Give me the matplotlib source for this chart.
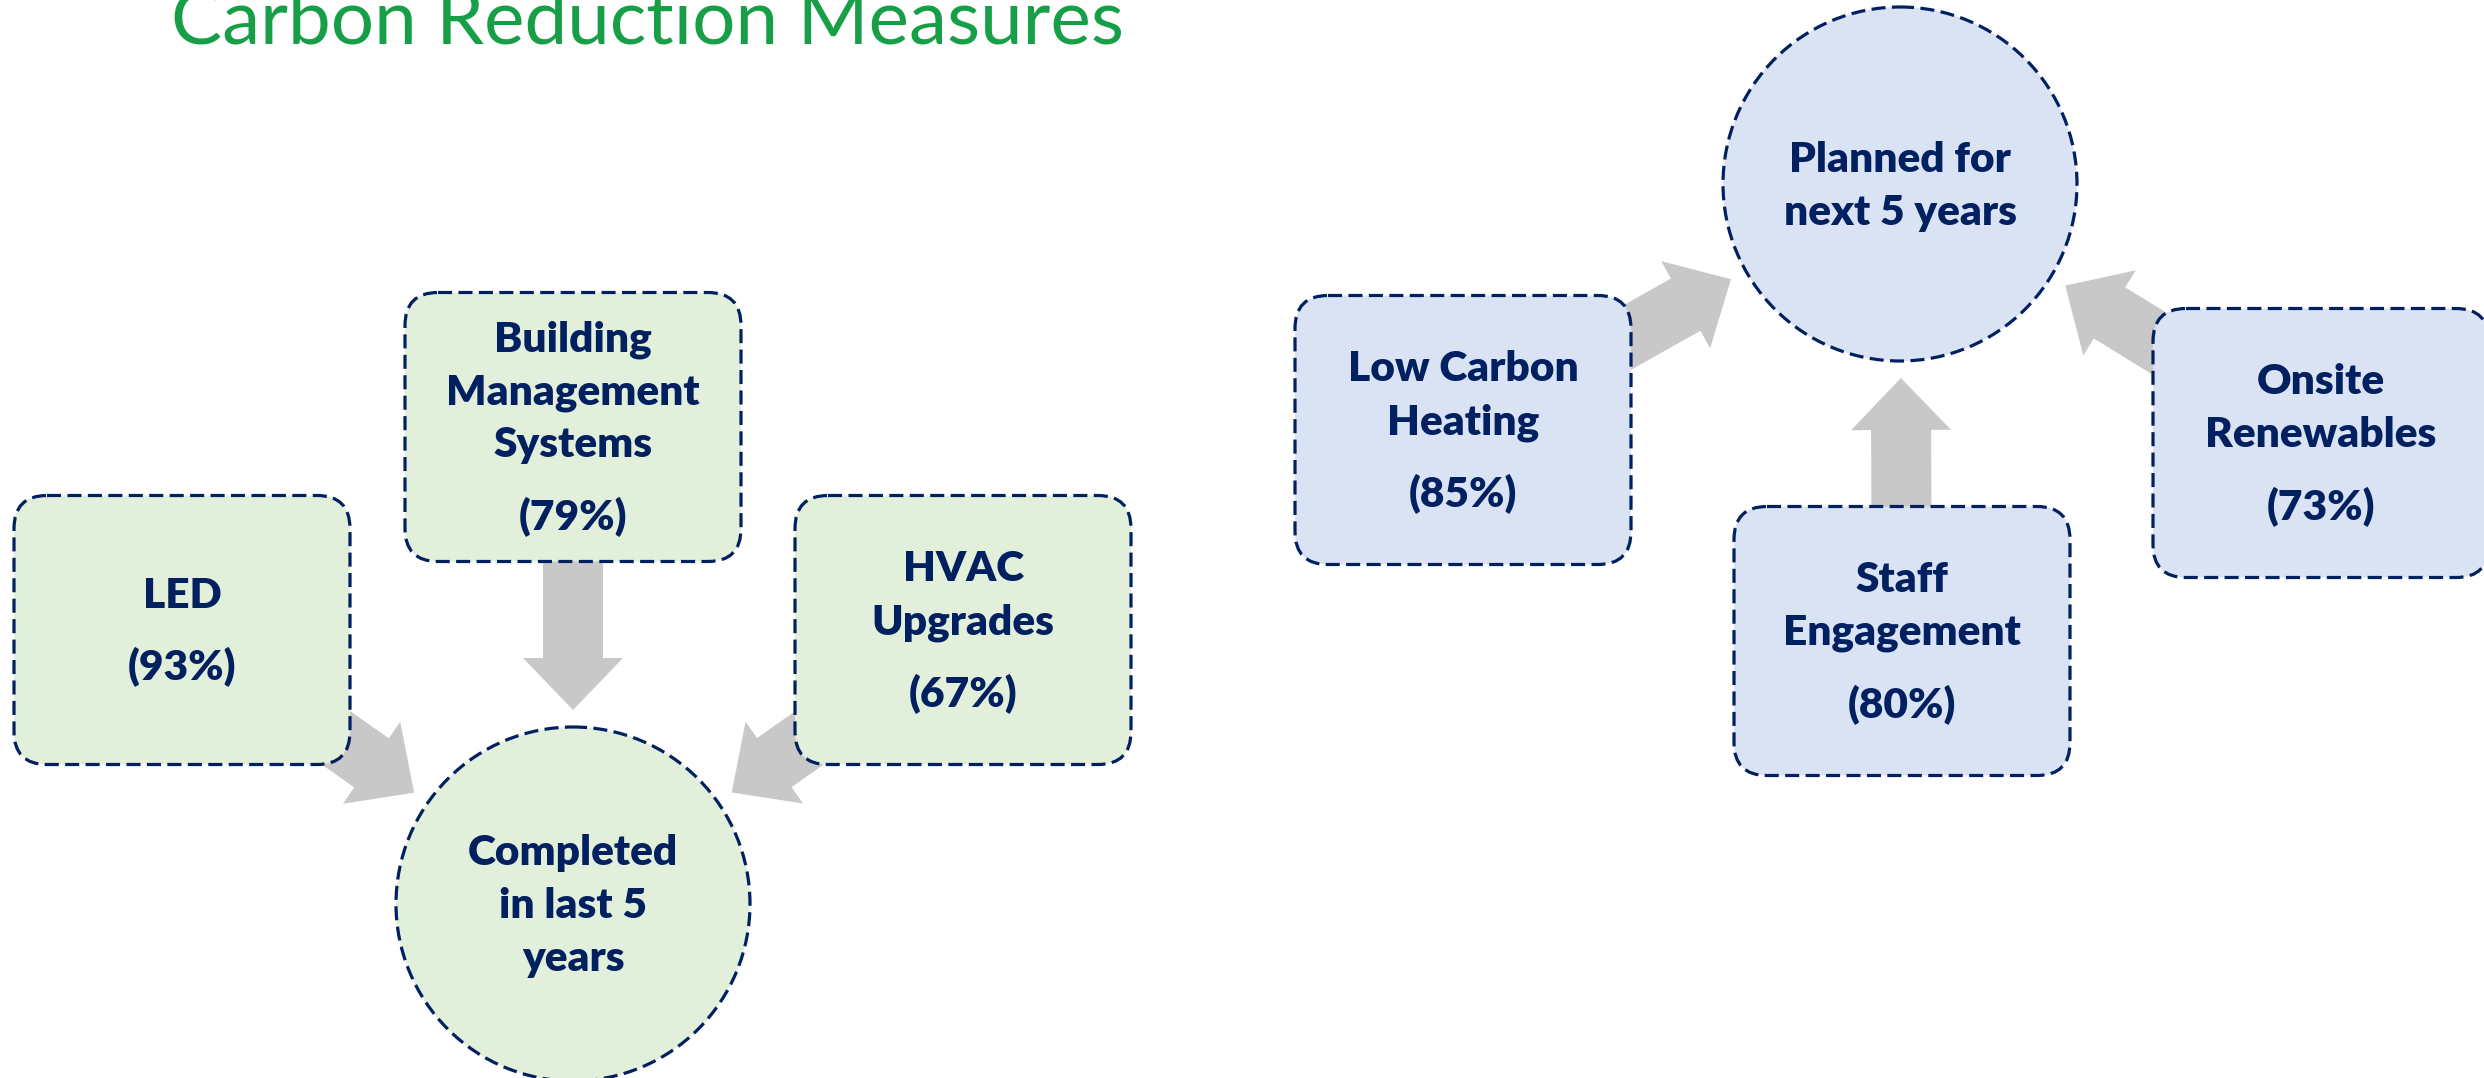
import numpy as np
import matplotlib.pyplot as plt
from matplotlib.patches import FancyBboxPatch, Circle, FancyArrow

W, H = 2484, 1078

title = "Carbon Reduction Measures"

# left group - completed in last 5 years
done_hub = ["Completed", "in last 5", "years"]
done_labels = [["LED"], ["Building", "Management", "Systems"], ["HVAC", "Upgrades"]]
done_pct = [93, 79, 67]

# right group - planned for next 5 years
plan_hub = ["Planned for", "next 5 years"]
plan_labels = [["Low Carbon", "Heating"], ["Staff", "Engagement"], ["Onsite", "Renewables"]]
plan_pct = [85, 80, 73]

# layout in pixels (y down)
done_hub_xy = (573, 904)
done_box_xy = [(182, 630), (573, 427), (963, 630)]
plan_hub_xy = (1900, 184)
plan_box_xy = [(1463, 430), (1902, 641), (2321, 443)]

box_w, box_h = 336, 269
hub_r = 177
navy = "#002060"
grey = "#C8C8C8"
green_fill = "#E2EFDA"
blue_fill = "#DAE3F3"
lw = 2.3
dash = (0, (4.4, 2.0))
line_gap = 53
pct_gap = 73
fs = 30.5
font = ["Lato", "DejaVu Sans"]

fig = plt.figure(figsize=(W / 100, H / 100), dpi=100)
ax = fig.add_axes([0, 0, 1, 1])
ax.set_xlim(0, W)
ax.set_ylim(H, 0)
ax.axis("off")


def label(x, y, s):
    ax.text(x, y + 14, s, ha="center", va="baseline", fontsize=fs,
            fontweight="heavy", color=navy, family=font, zorder=4)


def group(hub_xy, hub_rows, boxes, labels, pcts, fill):
    hx, hy = hub_xy
    for (bx, by), lab, p in zip(boxes, labels, pcts):
        v = np.array([bx - hx, by - hy], dtype=float)
        u = v / np.hypot(*v)
        tip = np.array([hx, hy]) + u * (hub_r + 17)
        ax.add_patch(FancyArrow(bx, by, tip[0] - bx, tip[1] - by, width=60,
                                head_width=100, head_length=52,
                                length_includes_head=True, color=grey, lw=0, zorder=1))
        ax.add_patch(FancyBboxPatch((bx - box_w / 2, by - box_h / 2), box_w, box_h,
                                    boxstyle="round,pad=0,rounding_size=33",
                                    fc=fill, ec=navy, lw=lw, ls=dash, zorder=2))
        span = (len(lab) - 1) * line_gap + pct_gap
        top = by - span / 2
        for i, r in enumerate(lab):
            label(bx, top + i * line_gap, r)
        label(bx, top + span, f"({p}%)")
    ax.add_patch(Circle((hx, hy), hub_r, fc=fill, ec=navy, lw=lw, ls=dash, zorder=2))
    top = hy - (len(hub_rows) - 1) * line_gap / 2
    for i, r in enumerate(hub_rows):
        label(hx, top + i * line_gap, r)


group(done_hub_xy, done_hub, done_box_xy, done_labels, done_pct, green_fill)
group(plan_hub_xy, plan_hub, plan_box_xy, plan_labels, plan_pct, blue_fill)

ax.text(171, 43, title, ha="left", va="baseline", fontsize=55,
        color="#179F47", family=font)

fig.savefig("out.png", dpi=100)
